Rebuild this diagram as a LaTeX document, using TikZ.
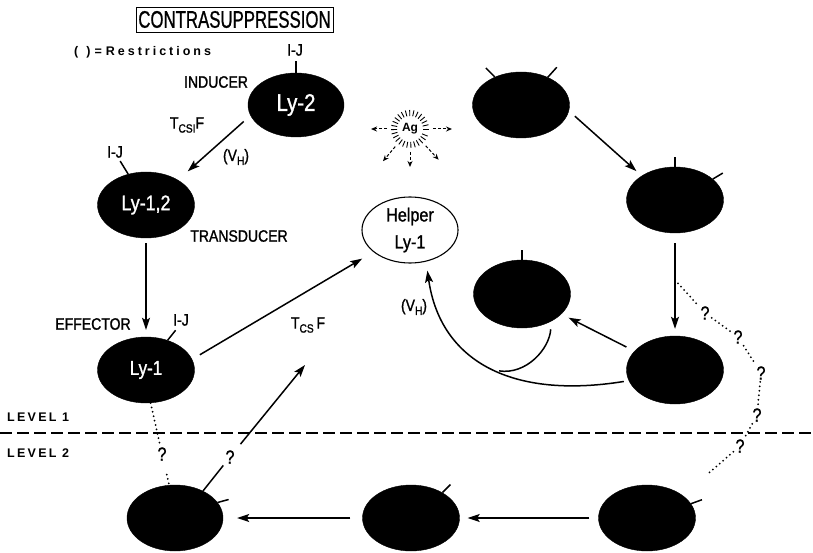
\documentclass[tikz,border=0pt]{standalone}
\usepackage{fontspec}
\setmainfont{Liberation Sans}
\newfontfamily\cond[FakeStretch=0.85,FakeBold=1.2]{Liberation Sans}
\newfontfamily\titlef[FakeStretch=0.7,FakeBold=0.8]{Liberation Sans}
\newfontfamily\spaced[LetterSpace=18]{Liberation Sans Bold}
\newfontfamily\legendf[LetterSpace=24]{Liberation Sans Bold}
\usetikzlibrary{shapes.geometric,arrows.meta,calc}

\tikzset{
  cell/.style={ellipse, fill=black, draw=black, minimum width=97pt, minimum height=66pt,
    inner sep=0pt, text=white},
  helpercell/.style={ellipse, draw=black, line width=1.1pt, fill=white, minimum width=96pt,
    minimum height=66pt, inner sep=0pt, align=center, font=\cond\fontsize{19}{27}\selectfont},
  lbl/.style={inner sep=0pt, font=\cond\fontsize{16.5}{16.5}\selectfont},
  ijlbl/.style={inner sep=0pt, font=\cond\fontsize{16.5}{16.5}\selectfont},
  boldlbl/.style={inner sep=0pt, anchor=west, font=\spaced\fontsize{12.5}{12.5}\selectfont},
  conn/.style={line width=1.5pt, -{Stealth[length=12pt,width=8pt,inset=2.5pt]}},
  plain/.style={line width=1.5pt},
  tick/.style={line width=1.5pt},
  qmark/.style={inner sep=2pt, font=\cond\fontsize{19}{19}\selectfont},
  dots/.style={line width=2pt, line cap=round, dash pattern=on 0pt off 4.5pt},
  agarrow/.style={line width=1pt, dash pattern=on 3pt off 2pt,
    -{Stealth[length=6pt,width=5pt]}},
  agray/.style={line width=0.9pt},
  levelline/.style={line width=1.3pt, dash pattern=on 12pt off 5pt}
}

\begin{document}
\begin{tikzpicture}[x=1pt,y=-1pt]
\useasboundingbox (0,0) rectangle (813,553);

% heading and legend
\node[draw, line width=0.9pt, minimum width=197pt, minimum height=25pt, inner sep=0pt,
  font=\titlef\fontsize{24}{24}\selectfont] (title) at (234.5,19.5) {CONTRASUPPRESSION};
\node[boldlbl, font=\legendf\fontsize{12.5}{12.5}\selectfont] (restr) at (74,52)
  {(\hspace{8pt})\hspace{4pt}=\hspace{4pt}Restrictions};

% level 1 cells
\node[cell, minimum width=96pt, minimum height=64pt, font=\cond\fontsize{24}{24}\selectfont] (ly2) at (296,105) {Ly-2};
\node[cell, font=\cond\fontsize{21}{21}\selectfont] (ly12) at (146,205) {Ly-1,2};
\node[cell, font=\cond\fontsize{20}{20}\selectfont] (ly1) at (146,370) {Ly-1};
\node[helpercell] (helper) at (410,230) {Helper\\Ly-1};

\node[cell] (r1) at (521,105) {};
\node[cell] (r2) at (675,200) {};
\node[cell, minimum height=68pt] (r3) at (675,370) {};
\node[cell, minimum height=68pt] (m) at (522,294) {};

% level 2 cells
\node[cell, minimum width=96pt] (bl) at (175,518) {};
\node[cell] (bm) at (411,518) {};
\node[cell] (br) at (647,518) {};

% labels
\node[ijlbl] (ij1) at (295,50) {I-J};
\node[ijlbl] (ij2) at (115,152) {I-J};
\node[ijlbl] (ij3) at (181,320) {I-J};
\node[lbl] (inducer) at (216,82) {INDUCER};
\node[lbl] (transducer) at (239,236) {TRANSDUCER};
\node[lbl] (effector) at (93,324) {EFFECTOR};
\node[lbl] (tcsif) at (187,125) {T\raisebox{-4pt}{\fontsize{12}{12}\selectfont CSI}F};
\node[lbl] (vh1) at (236,157) {(V\raisebox{-4pt}{\fontsize{12}{12}\selectfont H})};
\node[lbl] (tcsf) at (308,325) {T\raisebox{-4pt}{\fontsize{12}{12}\selectfont CS}\,F};
\node[lbl] (vh2) at (414,307) {(V\raisebox{-4pt}{\fontsize{12}{12}\selectfont H})};
\node[boldlbl] (lev1) at (7,417) {LEVEL 1};
\node[boldlbl] (lev2) at (7,453) {LEVEL 2};

% receptor ticks
\draw[tick] (ly2.north) -- ++(0,-12);
\draw[tick] (ly12.120) -- ++(-8,-13);
\draw[tick] (ly1.54) -- ++(8,-10);
\draw[tick] (r1.133) -- ++(-9,-9);
\draw[tick] (r1.46) -- ++(9,-10);
\draw[tick] (r2.north) -- ++(0,-10);
\draw[tick] (r2.29) -- ++(10,-6);
\draw[tick] (m.north) -- ++(0,-10);
\draw[tick] (bl.20) -- ++(11,-3);
\draw[tick] (bm.39) -- ++(8,-8);
\draw[tick] (br.18) -- ++(11,-4);

% antigen
\node[inner sep=0pt, font=\bfseries\fontsize{12}{12}\selectfont] (ag) at (410,129) {Ag};
\foreach \a in {0,13,...,350}
  \draw[agray] ([shift={(\a:13pt)}]ag.center) -- ([shift={(\a:19pt)}]ag.center);
\foreach \a/\r in {180/39pt, 0/42pt, 270/38pt, 230/42pt, 313/42pt}
  \draw[agarrow] ([shift={(\a:23pt)}]ag.center) -- ([shift={(\a:\r)}]ag.center);

% level 1 pathway
\draw[conn, shorten <=9pt, shorten >=13pt] (ly2.193.5) -- (ly12.38);
\draw[conn, shorten <=5pt, shorten >=7pt] (ly12.south) -- (ly1.north);
\draw[conn, shorten <=9pt, shorten >=13pt] (ly1.13) -- (helper.211.7);

\draw[conn, shorten <=8pt, shorten >=7pt] (r1.-7) -- (r2.144);
\draw[conn, shorten <=10pt, shorten >=7pt] (r2.south) -- coordinate[pos=0.456] (branch) (r3.north);
\draw[conn, shorten <=9pt, shorten >=8pt] (r3.155) -- (m.-27.6);
\draw[conn, shorten <=5pt, shorten >=9pt] (r3.193) .. controls +(-118,19) and +(14,99) ..
  coordinate[pos=0.45] (join) (helper.-63);
\draw[plain, shorten <=8pt] (m.-43) .. controls +(-2,28) and +(27,4) .. (join);

% level 2 pathway
\draw[conn, shorten <=9pt, shorten >=8pt] (br.west) -- (bm.east);
\draw[conn, shorten <=12pt, shorten >=14pt] (bm.west) -- (bl.east);

% uncertain links
\node[qmark] (qa) at (162,454) {?};
\node[qmark] (qb) at (230,457) {?};
\coordinate (tcsend) at (305,365);
\draw[dots, shorten <=12pt] (ly1.-82) -- (qa) -- (bl.100);
\draw[conn, shorten <=6pt] (bl.44) -- (qb) -- (tcsend);

\node[qmark] (q3) at (705,313) {?};
\node[qmark] (q4) at (738,337) {?};
\node[qmark] (q5) at (761,373) {?};
\node[qmark] (q6) at (757,415) {?};
\node[qmark] (q7) at (740,446) {?};
\draw[dots, shorten >=34pt] (branch) -- (q3) -- (q4) -- (q5) -- (q6) -- (q7) -- (br.32);

% boundary between levels
\coordinate (levL) at (0,433);
\coordinate (levR) at (813,433);
\draw[levelline] (levL) -- (levR);
\end{tikzpicture}
\end{document}
